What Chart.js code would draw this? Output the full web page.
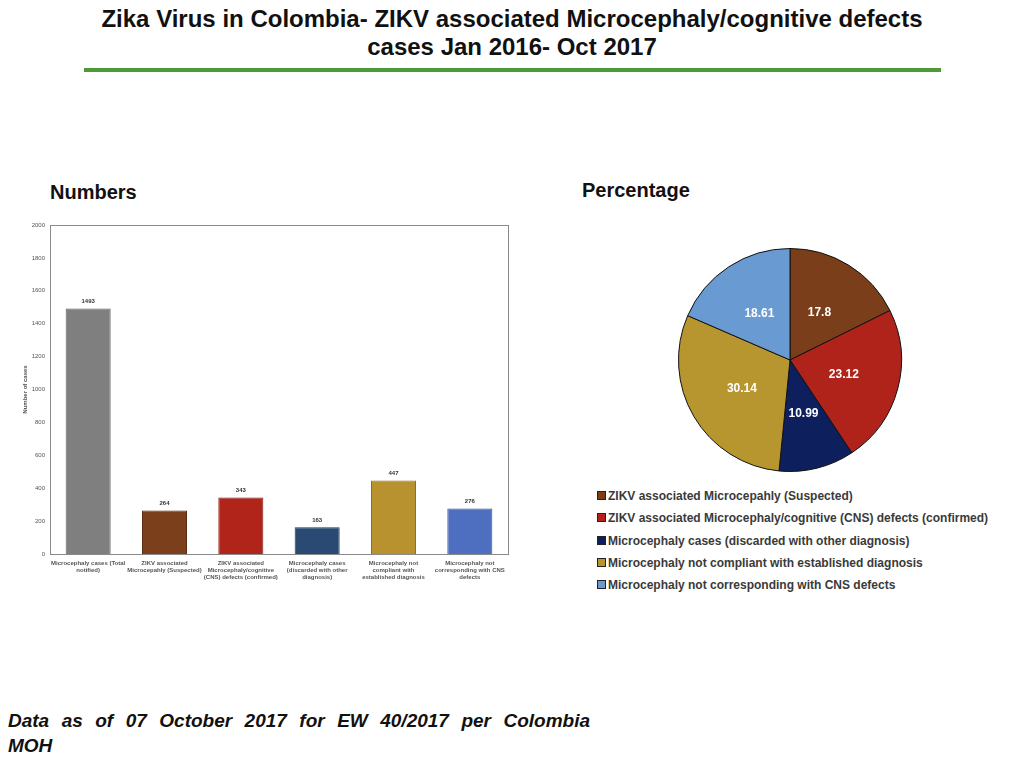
<!DOCTYPE html>
<html>
<head>
<meta charset="utf-8">
<script src="https://cdn.jsdelivr.net/npm/chart.js@4"></script>
<style>
  html, body { margin:0; padding:0; background:#fff; }
  body { width:1024px; height:768px; position:relative; overflow:hidden; font-family:"Liberation Sans", Arial, sans-serif; }
  #title { position:absolute; left:0; top:5px; width:1024px; text-align:center; font-weight:bold; font-size:24px; line-height:28px; color:#111; }
  #rule { position:absolute; left:84px; top:68px; width:857px; height:4px; background:#4e9a37; }
  .sub { position:absolute; font-weight:bold; font-size:20px; color:#111; }
  #barWrap { position:absolute; left:20px; top:215px; width:495px; height:375px; }
  #pieWrap { position:absolute; left:670px; top:240px; width:240px; height:240px; }
  #legend { position:absolute; left:597px; top:487px; font-weight:bold; font-size:12px; color:#3a3a3a; }
  #legend div { height:22.3px; line-height:18px; white-space:nowrap; }
  #legend span.sw { display:inline-block; width:7px; height:7px; border:1px solid #222; margin-right:2px; vertical-align:0px; }
  #footer { position:absolute; left:8px; top:708px; width:582px; font-weight:bold; font-style:italic; font-size:19px; line-height:25px; color:#111; }
  #footer .l1 { display:block; text-align:justify; text-align-last:justify; }
</style>
</head>
<body>
<div id="title">Zika Virus in Colombia- ZIKV associated Microcephaly/cognitive defects<br>cases Jan 2016- Oct 2017</div>
<div id="rule"></div>
<div class="sub" style="left:50px; top:181px;">Numbers</div>
<div class="sub" style="left:582px; top:179px;">Percentage</div>
<div id="barWrap"><canvas id="bar" width="495" height="375"></canvas></div>
<div id="pieWrap"><canvas id="pie" width="240" height="240"></canvas></div>
<div id="legend"></div>
<div id="footer"><span class="l1">Data as of 07 October 2017 for EW 40/2017 per Colombia</span>MOH</div>
<script>
// ---- Bar chart data ----
const barCategories = [
  ["Microcephaly cases (Total", "notified)"],
  ["ZIKV associated", "Microcepahly (Suspected)"],
  ["ZIKV associated", "Microcephaly/cognitive", "(CNS) defects (confirmed)"],
  ["Microcephaly cases", "(discarded with other", "diagnosis)"],
  ["Microcephaly not", "compliant with", "established diagnosis"],
  ["Microcephaly not", "corresponding with CNS", "defects"]
];
const barValues = [1493, 264, 343, 163, 447, 276];
const barColors = ["#7f7f7f", "#7b3f1b", "#b0241a", "#2a4a74", "#b8922f", "#4e6fbf"];
const barBorders = ["#5f5f5f", "#5a2d12", "#861b13", "#1d3556", "#8c6f22", "#3a5496"];
const yTicks = [0, 200, 400, 600, 800, 1000, 1200, 1400, 1600, 1800, 2000];

// ---- Pie chart data ----
const pieLabels = [
  "ZIKV associated Microcepahly (Suspected)",
  "ZIKV associated Microcephaly/cognitive (CNS) defects (confirmed)",
  "Microcephaly cases (discarded with other diagnosis)",
  "Microcephaly not compliant with established diagnosis",
  "Microcephaly not corresponding with CNS defects"
];
const pieValues = [17.8, 23.12, 10.99, 30.14, 18.61];
const pieColors = ["#7a3f1a", "#b0231a", "#0d1f5c", "#b8962f", "#6a9ad2"];

const boxPlugin = {
  id: 'box',
  beforeDatasetsDraw(chart) {
    const a = chart.chartArea, c = chart.ctx;
    c.save(); c.strokeStyle = '#8a8a8a'; c.lineWidth = 1;
    c.strokeRect(Math.round(a.left) + 0.5, Math.round(a.top) + 0.5, Math.round(a.right - a.left), Math.round(a.bottom - a.top));
    c.restore();
  }
};
const barValuePlugin = {
  id: 'barValues',
  afterDatasetsDraw(chart) {
    const c = chart.ctx, meta = chart.getDatasetMeta(0);
    c.save(); c.font = 'bold 6px "Liberation Sans", Arial'; c.fillStyle = '#333';
    c.textAlign = 'center'; c.textBaseline = 'bottom';
    meta.data.forEach((el, i) => c.fillText(String(barValues[i]), el.x, el.y - 4));
    c.restore();
  }
};

new Chart(document.getElementById('bar'), {
  type: 'bar',
  data: {
    labels: barCategories,
    datasets: [{ data: barValues, backgroundColor: barColors, borderColor: barBorders, borderWidth: 1, barPercentage: 0.59, categoryPercentage: 1 }]
  },
  options: {
    responsive: false, animation: false, devicePixelRatio: 1,
    layout: { padding: { top: 10, right: 7, left: 0, bottom: 0 } },
    plugins: { legend: { display: false }, tooltip: { enabled: false } },
    scales: {
      x: {
        grid: { display: false, drawTicks: false, tickLength: 0 }, border: { display: false },
        ticks: { maxRotation: 0, autoSkip: false, color: '#555', font: { size: 6, weight: 'bold', family: '"Liberation Sans", Arial', lineHeight: 1.15 }, padding: 6 },
        afterFit(s) { s.height = 36; }
      },
      y: {
        min: 0, max: 2000,
        afterBuildTicks(s) { s.ticks = yTicks.map(v => ({ value: v })); },
        grid: { display: false, drawTicks: false, tickLength: 0 }, border: { display: false },
        ticks: { color: '#555', font: { size: 6, family: '"Liberation Sans", Arial' }, padding: 5, callback: v => String(v) },
        title: { display: true, text: 'Number of cases', color: '#555', font: { size: 6, weight: 'bold', family: '"Liberation Sans", Arial' }, padding: { top: 2, bottom: 2 } },
        afterFit(s) { s.width = 30; }
      }
    }
  },
  plugins: [boxPlugin, barValuePlugin]
});

const pieLabelPlugin = {
  id: 'pieLabels',
  afterDatasetsDraw(chart) {
    const c = chart.ctx, meta = chart.getDatasetMeta(0);
    c.save(); c.font = 'bold 12px "Liberation Sans", Arial'; c.fillStyle = '#fff';
    c.textAlign = 'center'; c.textBaseline = 'middle';
    meta.data.forEach((arc, i) => {
      const mid = (arc.startAngle + arc.endAngle) / 2, r = arc.outerRadius * 0.5;
      c.fillText(String(pieValues[i]), arc.x + Math.cos(mid) * r, arc.y + Math.sin(mid) * r);
    });
    c.restore();
  }
};

new Chart(document.getElementById('pie'), {
  type: 'pie',
  data: { labels: pieLabels, datasets: [{ data: pieValues, backgroundColor: pieColors, borderColor: '#111', borderWidth: 1 }] },
  options: {
    responsive: false, animation: false, devicePixelRatio: 1,
    layout: { padding: 8 },
    plugins: { legend: { display: false }, tooltip: { enabled: false } }
  },
  plugins: [pieLabelPlugin]
});

const leg = document.getElementById('legend');
pieLabels.forEach((t, i) => {
  const d = document.createElement('div');
  const sw = document.createElement('span'); sw.className = 'sw'; sw.style.background = pieColors[i];
  d.appendChild(sw); d.appendChild(document.createTextNode(t));
  leg.appendChild(d);
});
</script>
</body>
</html>
